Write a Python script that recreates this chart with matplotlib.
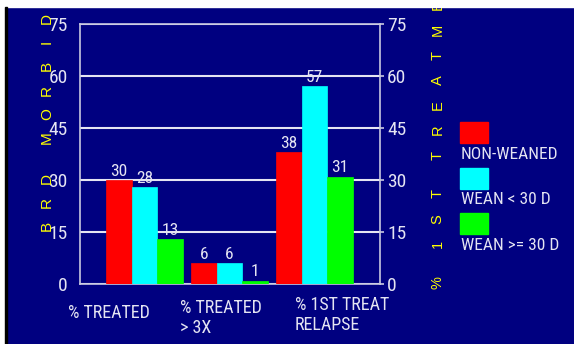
import matplotlib
matplotlib.use('Agg')
import matplotlib.pyplot as plt
from matplotlib.patches import Rectangle
from matplotlib import font_manager
import numpy as np

# data
categories = ['% TREATED', '% TREATED\n> 3X', '% 1ST TREAT\nRELAPSE']
series = ['NON-WEANED', 'WEAN < 30 D', 'WEAN >= 30 D']
non_weaned = [30, 6, 38]
wean_lt_30 = [28, 6, 57]
wean_ge_30 = [13, 1, 31]
yticks = [0, 15, 30, 45, 60, 75]
left_title = 'BRD MORBID'
right_title = '% 1ST TREATMENT'

NAVY = '#000080'
LIGHT = '#e4e4f2'
YELLOW = '#ffff00'
colors = ['#ff0000', '#00ffff', '#00ff00']
FONT = 'Liberation Sans'

# narrow face for the grey texts if one is around, else plain Liberation a bit smaller
installed = {f.name for f in font_manager.fontManager.ttflist}
NARROW, sz = FONT, {'tick': 12, 'val': 10.5, 'cat': 10.5, 'leg': 9.5}
for cand in ['Liberation Sans Narrow', 'Roboto Condensed', 'Archivo Narrow', 'PT Sans Narrow']:
    if cand in installed:
        NARROW, sz = cand, {'tick': 14, 'val': 12.5, 'cat': 13, 'leg': 12.5}
        break

W, H = 574, 344
def fx(x): return x / W
def fy(y): return 1 - y / H

fig = plt.figure(figsize=(W / 100, H / 100), dpi=100, facecolor=NAVY)
ax = fig.add_axes([fx(80), fy(284), fx(380) - fx(80), fy(24) - fy(284)])
ax.set_facecolor(NAVY)

x = np.arange(len(categories))
bw = 0.3
values = [non_weaned, wean_lt_30, wean_ge_30]
for i, (vals, c) in enumerate(zip(values, colors)):
    bars = ax.bar(x + (i - 1) * bw, vals, bw, color=c, edgecolor=c, lw=0.5, zorder=3)
    for b, v in zip(bars, vals):
        ax.annotate(str(v), (b.get_x() + b.get_width() / 2, v), xytext=(0, 1),
                    textcoords='offset points', ha='center', va='bottom',
                    color=LIGHT, fontsize=sz['val'], family=NARROW)

ax.set_xlim(-0.76, 2.77)
ax.set_ylim(0, 75)
ax.set_xticks([])
ax.set_yticks(yticks)
ax.grid(axis='y', color=LIGHT, lw=1.5, zorder=0)
ax.set_axisbelow(True)
for s in ax.spines.values():
    s.set_color('#c8c8e0')
    s.set_linewidth(1.2)
ax.tick_params(axis='y', length=0, pad=9, labelcolor=LIGHT, labelsize=sz['tick'])
for t in ax.get_yticklabels():
    t.set_family(NARROW)

ax2 = ax.twinx()
ax2.set_ylim(0, 75)
ax2.set_yticks(yticks)
ax2.tick_params(axis='y', length=3, width=1.2, color='#c8c8e0', pad=2,
                labelcolor=LIGHT, labelsize=sz['tick'])
for t in ax2.get_yticklabels():
    t.set_family(NARROW)
for s in ax2.spines.values():
    s.set_visible(False)

# category labels, one baseline per line
cat_pos = [(68, 318), (180, 313), (295, 310)]
for lab, (px, py) in zip(categories, cat_pos):
    for k, line in enumerate(lab.split('\n')):
        fig.text(fx(px), fy(py + 20 * k), line, ha='left', va='baseline',
                 color=LIGHT, fontsize=sz['cat'], family=NARROW)

# legend: swatch with label below
for i, (name, c) in enumerate(zip(series, colors)):
    top = 122 + i * 45.5
    fig.add_artist(Rectangle((fx(460), fy(top + 21)), fx(488) - fx(460), fy(top) - fy(top + 21),
                             transform=fig.transFigure, color=c, zorder=3))
    fig.text(fx(461), fy(top + 37), name, ha='left', va='baseline', color=LIGHT,
             fontsize=sz['leg'], family=NARROW)

# spaced axis titles, one letter at a time going up
def spaced_title(s, px, py, step, space, size):
    y = py
    for ch in s:
        if ch == ' ':
            y -= space
            continue
        fig.text(fx(px), fy(y), ch, rotation=90, ha='center', va='center',
                 color=YELLOW, fontsize=size, family=FONT)
        y -= step

spaced_title(left_title, 47, 226, 24, 16, 11)
spaced_title(right_title, 437.5, 283, 25, 14, 10.5)

# white margin and black frame line
fig.add_artist(Rectangle((0, fy(7)), 1, 1 - fy(7), transform=fig.transFigure,
                         color='white', zorder=10))
fig.add_artist(Rectangle((0, 0), fx(5), 1, transform=fig.transFigure,
                         color='white', zorder=10))
fig.add_artist(Rectangle((fx(5), 0), fx(2), fy(7), transform=fig.transFigure,
                         color='black', zorder=10))

fig.savefig('out.png', dpi=100, facecolor=NAVY)
